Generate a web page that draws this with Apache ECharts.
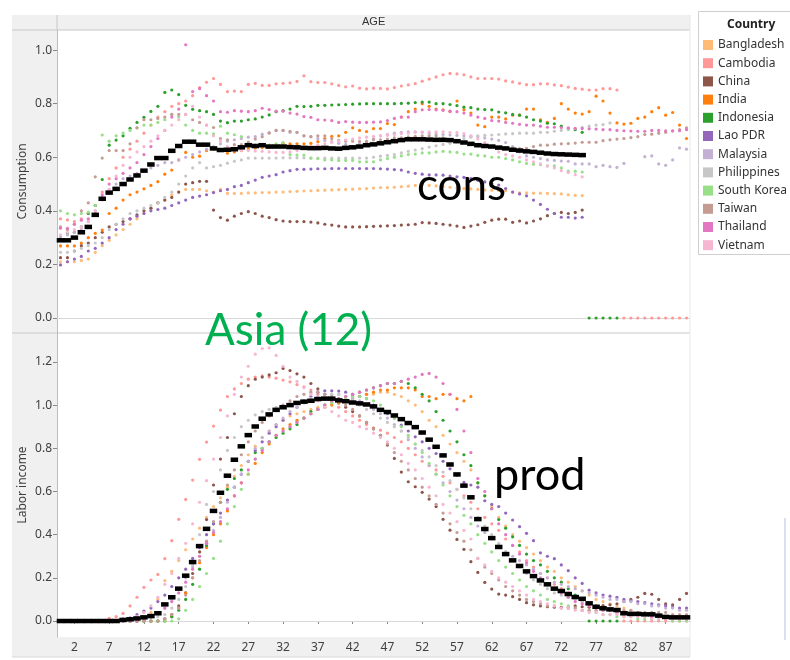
<!DOCTYPE html>
<html><head><meta charset="utf-8">
<script src="https://cdn.jsdelivr.net/npm/echarts@6/dist/echarts.min.js"></script>
<style>html,body{margin:0;padding:0;background:#fff}#c{width:790px;height:660px}</style>
</head><body><div id="c"></div>
<script>
const ages = [0,1,2,3,4,5,6,7,8,9,10,11,12,13,14,15,16,17,18,19,20,21,22,23,24,25,26,27,28,29,30,31,32,33,34,35,36,37,38,39,40,41,42,43,44,45,46,47,48,49,50,51,52,53,54,55,56,57,58,59,60,61,62,63,64,65,66,67,68,69,70,71,72,73,74,75,76,77,78,79,80,81,82,83,84,85,86,87,88,89,90];
const xTickLabels = ['2','7','12','17','22','27','32','37','42','47','52','57','62','67','72','77','82','87'];
const consTicks = [0,0.2,0.4,0.6,0.8,1.0];
const prodTicks = [0,0.2,0.4,0.6,0.8,1.0,1.2];
const countries = ['Bangladesh','Cambodia','China','India','Indonesia','Lao PDR','Malaysia','Philippines','South Korea','Taiwan','Thailand','Vietnam'];
const colors = ['#ffbb78','#ff9896','#8c564b','#ff7f0e','#2ca02c','#9467bd','#c5b0d5','#c7c7c7','#98df8a','#c49c94','#e377c2','#f7b6d2'];
const N = null;

const consBangladesh = [0.21,0.21,0.21,0.215,0.22,0.245,0.27,0.29,0.31,0.33,
0.35,0.37,0.39,0.41,0.43,0.44,0.46,0.47,0.48,0.48,
0.48,0.475,0.47,0.48,0.465,0.465,0.465,0.467,0.467,0.468,
0.468,0.47,0.47,0.472,0.473,0.474,0.475,0.476,0.477,0.478,
0.479,0.48,0.481,0.482,0.483,0.485,0.487,0.487,0.488,0.49,
0.492,0.495,0.497,0.495,0.493,0.49,0.488,0.486,0.483,0.482,
0.48,0.478,0.477,0.476,0.475,0.47,0.467,0.467,0.466,0.466,
0.465,0.464,0.463,0.46,0.458,0.457,N,N,N,N,
N,N,N,N,N,N,N,N,N,N,N];
const consCambodia = [0.37,0.366,0.36,0.37,0.39,0.42,0.47,0.52,0.56,0.6,
0.63,0.66,0.69,0.72,0.75,0.77,0.79,0.8,0.81,0.83,
0.86,0.88,0.894,0.872,0.845,0.847,0.845,0.872,0.876,0.868,
0.868,0.874,0.876,0.878,0.883,0.904,0.882,0.879,0.879,0.874,
0.868,0.863,0.866,0.858,0.855,0.858,0.857,0.855,0.86,0.866,
0.87,0.875,0.884,0.892,0.9,0.908,0.913,0.911,0.908,0.9,
0.894,0.894,0.894,0.892,0.885,0.881,0.876,0.871,0.871,0.874,
0.874,0.87,0.867,0.862,0.857,0.854,0.851,0.851,0.856,0.856,
0.851,0,0,0,0,0,0,0,0,0,0];
const consChina = [0.225,0.225,0.25,0.27,0.28,0.3,0.32,0.34,0.35,0.36,
0.37,0.385,0.4,0.41,0.43,0.44,0.45,0.47,0.5,0.505,
0.51,0.51,0.403,0.375,0.365,0.38,0.39,0.397,0.39,0.38,
0.375,0.367,0.362,0.36,0.36,0.36,0.358,0.355,0.35,0.347,
0.343,0.34,0.34,0.34,0.341,0.342,0.343,0.344,0.345,0.347,
0.348,0.35,0.356,0.355,0.353,0.35,0.347,0.343,0.338,0.343,
0.348,0.357,0.365,0.369,0.369,0.357,0.362,0.355,0.362,0.37,
0.382,0.39,0.394,0.39,0.394,0.403,N,N,N,N,
N,N,N,N,N,N,N,N,N,N,N];
const consIndia = [0.269,0.269,0.269,0.28,0.3,0.316,0.328,0.39,0.41,0.44,
0.46,0.47,0.482,0.495,0.509,0.537,0.552,0.59,0.618,0.6,
0.604,0.625,0.63,0.625,0.615,0.62,0.625,0.632,0.635,0.636,
0.637,0.645,0.652,0.65,0.65,0.65,0.652,0.658,0.67,0.678,
0.68,0.693,0.71,0.7,0.696,0.707,0.707,0.726,0.722,0.75,
0.77,0.78,0.8,0.79,0.78,0.777,0.771,0.81,0.777,0.765,
0.72,0.714,0.75,0.75,0.743,0.757,0.757,0.78,0.78,0.74,
0.73,0.745,0.8,0.78,0.765,0.761,0.77,0.828,0.81,0.765,
0.728,0.724,0.727,0.745,0.75,0.77,0.785,0.757,0.767,0.72,0.67];
const consIndonesia = [0.3,0.317,0.32,0.34,0.39,0.42,0.517,0.645,0.664,0.68,
0.708,0.73,0.749,0.771,0.79,0.842,0.851,0.834,0.794,0.779,
0.774,0.77,0.76,0.735,0.729,0.735,0.735,0.74,0.743,0.75,
0.758,0.77,0.774,0.78,0.79,0.789,0.79,0.794,0.794,0.795,
0.796,0.797,0.798,0.799,0.8,0.8,0.8,0.8,0.8,0.801,
0.802,0.804,0.806,0.806,0.8,0.8,0.797,0.793,0.787,0.785,
0.78,0.778,0.777,0.769,0.766,0.76,0.757,0.75,0.74,0.735,
0.727,0.725,0.716,0.705,0.703,0.693,0,0,0,0,
0,N,N,N,N,N,N,N,N,N,N];
const consLao = [0.198,0.21,0.22,0.23,0.25,0.26,0.28,0.3,0.33,0.35,
0.37,0.38,0.39,0.4,0.405,0.41,0.42,0.43,0.44,0.45,
0.455,0.46,0.468,0.475,0.48,0.49,0.495,0.505,0.515,0.525,
0.53,0.535,0.545,0.55,0.555,0.555,0.556,0.557,0.557,0.558,
0.558,0.558,0.558,0.558,0.558,0.558,0.557,0.556,0.554,0.552,
0.545,0.54,0.537,0.534,0.534,0.533,0.53,0.527,0.525,0.52,
0.514,0.508,0.502,0.496,0.483,0.47,0.463,0.456,0.44,0.424,
0.406,0.39,0.376,0.376,0.373,0.376,N,N,N,N,
N,N,N,N,N,N,N,N,N,N,N];
const consMalaysia = [0.3,0.31,0.32,0.33,0.36,0.4,0.45,0.48,0.5,0.52,
0.53,0.54,0.55,0.56,0.57,0.58,0.58,0.59,0.6,0.61,
0.62,0.63,0.64,0.65,0.66,0.665,0.67,0.675,0.677,0.686,
0.692,0.7,0.7,0.693,0.692,0.68,0.677,0.67,0.663,0.658,
0.652,0.648,0.64,0.65,0.66,0.67,0.68,0.685,0.69,0.693,
0.695,0.695,0.693,0.69,0.688,0.685,0.683,0.682,0.68,0.678,
0.677,0.672,0.668,0.663,0.655,0.64,0.62,0.605,0.6,0.595,
0.59,0.588,0.586,0.585,0.575,0.575,0.575,0.565,0.57,0.565,
0.562,0.577,N,N,0.602,0.605,0.575,0.57,0.59,0.635,0.63];
const consPhilippines = [0.245,0.245,0.25,0.26,0.27,0.28,0.3,0.33,0.35,0.37,
0.39,0.4,0.41,0.42,0.43,0.45,0.47,0.5,0.53,0.56,
0.58,0.56,0.565,0.57,0.578,0.585,0.59,0.597,0.597,0.597,
0.597,0.597,0.598,0.598,0.598,0.598,0.597,0.597,0.597,0.597,
0.597,0.597,0.597,0.597,0.597,0.6,0.604,0.607,0.61,0.616,
0.622,0.627,0.632,0.638,0.643,0.648,0.652,0.66,0.67,0.675,
0.68,0.682,0.683,0.685,0.687,0.688,0.69,0.69,0.69,0.693,
0.693,0.697,0.7,0.705,0.707,0.712,0.716,0.72,0.722,0.728,
N,N,N,N,N,N,N,N,N,N,N];
const consKorea = [0.4,0.39,0.385,0.39,0.395,0.42,0.683,0.66,0.68,0.69,
0.7,0.71,0.72,0.72,0.73,0.74,0.76,0.75,0.72,0.7,
0.69,0.69,0.687,0.716,0.69,0.684,0.677,0.65,0.645,0.642,
0.645,0.65,0.655,0.61,0.608,0.608,0.597,0.595,0.59,0.59,
0.588,0.588,0.588,0.583,0.583,0.583,0.59,0.595,0.6,0.605,
0.61,0.612,0.616,0.616,0.62,0.622,0.62,0.618,0.612,0.612,
0.607,0.605,0.6,0.6,0.595,0.59,0.583,0.577,0.574,0.572,
0.568,0.568,0.56,0.548,0.548,0.545,N,N,N,N,
N,N,N,N,N,N,N,N,N,N,N];
const consTaiwan = [0.34,0.33,0.35,0.4,0.43,0.527,0.597,0.625,0.625,0.625,
0.65,0.71,0.74,0.74,0.745,0.75,0.76,0.76,0.76,0.74,
0.73,0.72,0.711,0.67,0.665,0.647,0.647,0.657,0.668,0.677,
0.69,0.7,0.7,0.697,0.693,0.68,0.677,0.68,0.68,0.67,
0.663,0.66,0.66,0.659,0.658,0.665,0.665,0.668,0.672,0.672,
0.676,0.678,0.68,0.68,0.68,0.672,0.665,0.658,0.655,0.65,
0.642,0.64,0.64,0.637,0.635,0.633,0.632,0.633,0.64,0.645,
0.645,0.649,0.65,0.651,0.653,0.656,0.656,0.656,0.662,0.665,
0.668,0.67,0.673,0.677,0.685,0.686,0.69,0.693,0.698,0.703,0.71];
const consThailand = [0.335,0.335,0.35,0.365,0.37,0.39,0.46,0.5,0.52,0.54,
0.56,0.58,0.61,0.64,0.67,0.7,0.75,0.78,1.02,0.845,
0.856,0.83,0.81,0.77,0.768,0.774,0.772,0.77,0.774,0.783,
0.778,0.772,0.772,0.765,0.761,0.752,0.749,0.74,0.739,0.737,
0.73,0.733,0.731,0.73,0.73,0.731,0.732,0.737,0.745,0.75,
0.75,0.77,0.777,0.778,0.777,0.775,0.772,0.77,0.765,0.757,
0.75,0.745,0.737,0.735,0.73,0.727,0.723,0.72,0.72,0.716,
0.712,0.712,0.711,0.71,0.708,0.707,0.706,0.705,0.703,0.703,
0.7,0.699,0.698,0.697,0.697,0.7,0.7,0.699,0.699,0.699,0.703];
const consVietnam = [0.31,0.32,0.33,0.34,0.36,0.4,0.44,0.48,0.53,0.57,
0.6,0.62,0.64,0.66,0.68,0.7,0.72,0.74,0.76,0.79,
0.75,0.72,0.68,0.66,0.64,0.63,0.625,0.625,0.623,0.622,
0.62,0.618,0.618,0.62,0.625,0.635,0.64,0.645,0.65,0.655,
0.66,0.665,0.668,0.672,0.675,0.678,0.68,0.682,0.685,0.688,
0.69,0.693,0.695,0.695,0.695,0.695,0.692,0.692,0.688,0.68,
0.668,0.655,0.64,0.62,0.61,0.605,0.6,0.59,0.583,0.575,
0.567,0.56,0.55,0.543,0.535,0.527,N,N,N,N,
N,N,N,N,N,N,N,N,N,N,N];
const consMean = [0.29,0.29,0.3,0.32,0.34,0.385,0.445,0.468,0.482,0.5,
0.517,0.532,0.55,0.573,0.597,0.597,0.624,0.642,0.658,0.658,
0.647,0.647,0.633,0.627,0.628,0.63,0.637,0.645,0.642,0.645,
0.64,0.64,0.64,0.638,0.637,0.635,0.634,0.634,0.635,0.633,
0.632,0.635,0.637,0.64,0.645,0.648,0.652,0.656,0.66,0.664,
0.667,0.667,0.667,0.666,0.665,0.665,0.664,0.66,0.655,0.65,
0.645,0.642,0.64,0.636,0.633,0.628,0.625,0.622,0.62,0.617,
0.614,0.612,0.611,0.61,0.609,0.608,N,N,N,N,
N,N,N,N,N,N,N,N,N,N,N];

const prodBangladesh = [0,0,0,0,0,0,0,0,0,0,
0.005,0.01,0.02,0.04,0.1,0.187,0.23,0.28,0.33,0.38,
0.43,0.48,0.53,0.57,0.62,0.67,0.72,0.77,0.81,0.85,
0.88,0.91,0.93,0.95,0.96,0.97,0.98,0.99,1.0,1.01,
1.02,1.03,1.04,1.04,1.05,1.05,1.06,1.06,1.05,1.04,
1.02,1.0,0.97,0.93,0.9,0.86,0.82,0.78,0.74,0.7,
0.64,0.58,0.53,0.48,0.44,0.4,0.37,0.34,0.31,0.28,
0.25,0.23,0.2,0.18,0.16,0.14,0.12,0.1,0.09,0.08,
0.07,0.06,0.05,0.04,0.03,0.02,0.02,0.01,0.01,0.01,0.01];
const prodCambodia = [0,0,0,0,0,0,0,0.012,0.02,0.035,
0.07,0.11,0.156,0.19,0.216,0.289,0.372,0.471,0.563,0.653,
0.749,0.829,0.903,0.977,1.04,1.075,1.1,1.12,1.13,1.135,
1.13,1.125,1.116,1.108,1.095,1.085,1.07,1.05,1.03,1.01,
0.99,0.97,0.95,0.93,0.91,0.895,0.884,0.87,0.85,0.83,
0.8,0.77,0.74,0.72,0.7,0.67,0.64,0.61,0.58,0.55,
0.52,0.48,0.45,0.42,0.38,0.35,0.32,0.28,0.25,0.22,
0.2,0.17,0.15,0.13,0.11,0.09,0.08,0.07,0.06,0.05,
0.04,0,0,0,0,0,0,0,0,0,0];
const prodChina = [0,0,0,0,0,0,0,0,0,0,
0,0,0,0,0,0.01,0.03,0.07,0.13,0.22,
0.32,0.47,0.63,0.75,0.85,0.96,1.04,1.09,1.12,1.13,
1.14,1.15,1.17,1.16,1.145,1.13,1.1,1.075,1.05,1.03,
1.01,0.99,0.97,0.95,0.92,0.89,0.86,0.815,0.753,0.69,
0.645,0.622,0.596,0.565,0.53,0.471,0.421,0.378,0.332,0.275,
0.225,0.179,0.148,0.125,0.12,0.113,0.1,0.085,0.075,0.07,
0.066,0.064,0.063,0.062,0.07,0.066,0.064,0.07,0.072,0.075,
0.08,0.09,0.1,0.11,0.128,0.124,0.1,0.079,0.075,0.1,0.128];
const prodIndia = [0,0,0,0,0,0,0,0,0,0,
0,0,0,0,0,0,0.02,0.06,0.13,0.2,
0.27,0.34,0.4,0.45,0.51,0.58,0.64,0.68,0.73,0.78,
0.82,0.86,0.89,0.91,0.93,0.94,0.96,0.98,0.99,1.0,
1.01,1.02,1.03,1.04,1.05,1.06,1.07,1.07,1.08,1.08,
1.08,1.07,1.04,1.04,1.03,1.05,1.05,1.03,1.02,1.04,
N,N,N,N,N,N,N,N,N,N,
N,N,N,N,N,N,N,N,N,N,
N,N,N,N,N,N,N,N,N,N,N];
const prodIndonesia = [0,0,0,0,0,0,0,0,0,0,
0,0,0,0,0,0,0.02,0.05,0.1,0.17,
0.24,0.35,0.45,0.55,0.61,0.66,0.7,0.74,0.78,0.8,
0.83,0.85,0.87,0.89,0.91,0.94,0.97,0.98,1.0,1.02,
1.03,1.04,1.05,1.06,1.07,1.08,1.09,1.1,1.1,1.11,
1.1,1.08,1.05,1.02,0.97,0.93,0.88,0.83,0.77,0.72,
0.64,0.58,0.52,0.47,0.43,0.39,0.35,0.31,0.28,0.26,
0.23,0.2,0.18,0.15,0.12,0.1,0,0,0,0,
0,N,N,N,N,N,N,N,N,N,N];
const prodLao = [0,0,0,0,0,0,0,0,0,0.01,
0.015,0.03,0.046,0.06,0.09,0.12,0.16,0.2,0.24,0.29,
0.34,0.4,0.45,0.5,0.56,0.62,0.68,0.74,0.79,0.83,
0.87,0.9,0.93,0.96,0.99,1.02,1.04,1.06,1.066,1.066,
1.065,1.06,1.05,1.04,1.03,1.0,0.98,0.96,0.94,0.907,
0.88,0.853,0.83,0.8,0.776,0.74,0.705,0.675,0.642,0.63,
0.62,0.557,0.54,0.53,0.5,0.468,0.437,0.406,0.372,0.316,
0.3,0.289,0.26,0.233,0.2,0.174,0.143,0.13,0.12,0.115,
0.11,0.1,0.095,0.09,0.085,0.08,0.075,0.07,0.065,0.06,0.06];
const prodMalaysia = [0,0,0,0,0,0,0,0,0,0,
0.005,0.01,0.015,0.02,0.03,0.06,0.1,0.15,0.2,0.25,
0.3,0.36,0.42,0.48,0.55,0.62,0.68,0.74,0.8,0.85,
0.88,0.91,0.94,0.97,0.99,1.01,1.03,1.04,1.05,1.05,
1.05,1.04,1.03,1.02,1.0,0.98,0.96,0.94,0.91,0.88,
0.84,0.8,0.76,0.72,0.68,0.64,0.6,0.56,0.52,0.48,
0.44,0.41,0.38,0.35,0.32,0.3,0.28,0.26,0.24,0.22,
0.2,0.18,0.17,0.16,0.15,0.14,0.13,0.12,0.11,0.1,
0.1,0.09,0.09,0.08,0.08,0.07,0.07,0.06,0.06,0.05,0.05];
const prodPhilippines = [0,0,0,0,0,0,0,0,0,0,
0,0.005,0.01,0.015,0.02,0.03,0.06,0.1,0.16,0.26,
0.4,0.54,0.6,0.7,0.79,0.85,0.9,0.93,0.955,0.97,
0.98,0.99,1.0,1.01,1.01,1.02,1.03,1.03,1.04,1.05,
1.05,1.04,1.02,1.0,0.98,0.96,0.94,0.92,0.9,0.88,
0.85,0.82,0.79,0.76,0.72,0.69,0.65,0.61,0.57,0.52,
0.48,0.44,0.4,0.36,0.32,0.28,0.25,0.22,0.19,0.17,
0.15,0.13,0.12,0.11,0.1,0.09,0.08,0.07,0.06,0.05,
0.05,0.04,0.04,0.03,0.03,0.03,0.02,0.02,0.02,0.02,0.02];
const prodKorea = [0,0,0,0,0,0,0,0,0,0,
0,0,0,0,0,0,0,0.01,0.05,0.1,
0.16,0.22,0.29,0.37,0.45,0.53,0.61,0.68,0.75,0.8,
0.83,0.86,0.88,0.9,0.92,0.94,0.96,0.98,1.0,1.01,
1.02,1.03,1.04,1.04,1.03,1.02,1.0,0.97,0.94,0.9,
0.86,0.82,0.78,0.73,0.68,0.63,0.58,0.53,0.49,0.45,
0.4,0.36,0.32,0.28,0.25,0.22,0.19,0.16,0.14,0.12,
0.1,0.09,0.08,0.07,0.06,0.05,0.05,0.04,0.03,0.03,
0.02,0.02,0.02,0.01,0.01,0.01,0.01,0.01,0,0,0];
const prodTaiwan = [0,0,0,0,0,0,0,0,0,0,
0,0,0,0,0,0.01,0.03,0.06,0.12,0.2,
0.28,0.37,0.46,0.55,0.63,0.7,0.77,0.83,0.88,0.92,
0.95,0.98,1.0,1.02,1.04,1.05,1.06,1.06,1.05,1.04,
1.02,1.0,0.98,0.95,0.92,0.89,0.86,0.82,0.78,0.74,
0.7,0.66,0.62,0.58,0.54,0.5,0.45,0.41,0.37,0.33,
0.29,0.25,0.22,0.19,0.16,0.14,0.12,0.1,0.09,0.08,
0.07,0.07,0.06,0.06,0.06,0.05,0.05,0.05,0.05,0.05,
0.05,0.05,0.05,0.04,0.04,0.04,0.04,0.04,0.03,0.03,0.03];
const prodThailand = [0,0,0,0,0,0,0,0,0,0,
0,0,0.01,0.02,0.04,0.06,0.09,0.13,0.18,0.24,
0.3,0.36,0.41,0.46,0.52,0.58,0.64,0.7,0.75,0.79,
0.83,0.86,0.88,0.9,0.92,0.94,0.96,0.98,1.0,1.02,
1.03,1.04,1.05,1.06,1.07,1.08,1.09,1.1,1.1,1.11,
1.12,1.13,1.142,1.147,1.13,1.1,1.05,0.98,0.88,0.78,
0.66,0.6,0.52,0.45,0.4,0.35,0.31,0.27,0.23,0.2,
0.17,0.15,0.13,0.11,0.09,0.08,0.07,0.06,0.05,0.05,
0.04,0.04,0.03,0.03,0.03,0.02,0.02,0.02,0.02,0.01,0.01];
const prodVietnam = [0,0,0,0,0,0,0,0,0,0,
0.01,0.02,0.04,0.07,0.11,0.17,0.22,0.29,0.36,0.45,
0.55,0.65,0.75,0.85,0.95,1.05,1.13,1.18,1.236,1.262,
1.265,1.23,1.18,1.13,1.11,1.08,1.05,1.02,0.99,0.97,
0.95,0.93,0.92,0.9,0.89,0.87,0.85,0.83,0.8,0.77,
0.73,0.7,0.66,0.62,0.58,0.54,0.5,0.46,0.42,0.38,
0.29,0.26,0.23,0.2,0.18,0.16,0.14,0.12,0.1,0.09,
0.08,0.07,0.06,0.06,0.05,0.05,0.04,0.04,0.03,0.03,
0.03,0.02,0.02,0.02,0.02,0.01,0.01,0.01,0.01,0.01,0.01];
const prodMean = [0,0,0,0,0,0,0,0,0,0.005,
0.008,0.012,0.017,0.023,0.036,0.077,0.11,0.15,0.21,0.273,
0.347,0.427,0.51,0.594,0.673,0.747,0.809,0.861,0.901,0.937,
0.957,0.978,0.99,1.0,1.01,1.016,1.02,1.028,1.03,1.03,
1.022,1.018,1.012,1.008,1.003,0.994,0.978,0.968,0.952,0.935,
0.917,0.898,0.873,0.84,0.807,0.767,0.725,0.679,0.627,0.573,
0.472,0.426,0.384,0.343,0.31,0.281,0.255,0.23,0.208,0.188,
0.17,0.15,0.139,0.125,0.111,0.103,0.082,0.066,0.059,0.054,
0.051,0.036,0.033,0.033,0.031,0.031,0.025,0.019,0.017,0.017,0.017];

const consData = [consBangladesh,consCambodia,consChina,consIndia,consIndonesia,consLao,consMalaysia,consPhilippines,consKorea,consTaiwan,consThailand,consVietnam];
const prodData = [prodBangladesh,prodCambodia,prodChina,prodIndia,prodIndonesia,prodLao,prodMalaysia,prodPhilippines,prodKorea,prodTaiwan,prodThailand,prodVietnam];

const FONT = '"Noto Sans", "Open Sans", sans-serif';
const BIG = 'Lato, "Open Sans", sans-serif';
const clean = arr => arr.map(v => v === null ? '-' : v);
const showTick = (i) => xTickLabels.indexOf(String(ages[i])) >= 0;
const zeroLine = {silent:true, symbol:'none', label:{show:false}, lineStyle:{color:'#d9d9d9', type:'solid', width:1}, data:[{yAxis:0}], z:1};

const series = [];
countries.forEach((c, k) => {
  series.push({name:c, type:'scatter', xAxisIndex:0, yAxisIndex:0, data:clean(consData[k]),
    symbol:'circle', symbolSize:3.2, itemStyle:{color:colors[k], opacity:1}, z:2, silent:true,
    markLine: k===0 ? zeroLine : undefined});
  series.push({name:c, type:'scatter', xAxisIndex:1, yAxisIndex:1, data:clean(prodData[k]),
    symbol:'circle', symbolSize:3.2, itemStyle:{color:colors[k], opacity:1}, z:2, silent:true,
    markLine: k===0 ? zeroLine : undefined});
});
series.push({name:'Mean cons', type:'scatter', xAxisIndex:0, yAxisIndex:0, data:clean(consMean), symbol:'rect', symbolSize:[7.5,4.5], itemStyle:{color:'#000', opacity:1}, z:5, silent:true});
series.push({name:'Mean prod', type:'scatter', xAxisIndex:1, yAxisIndex:1, data:clean(prodMean), symbol:'rect', symbolSize:[7.5,4.5], itemStyle:{color:'#000', opacity:1}, z:5, silent:true});

const yAxisCommon = (ticks, min, max, name) => ({
  type:'value', min:min, max:max,
  axisLine:{show:true, lineStyle:{color:'#bdbdbd'}},
  axisTick:{show:true, customValues:ticks, length:4, lineStyle:{color:'#888'}},
  axisLabel:{customValues:ticks, formatter:v => Number(v).toFixed(1), color:'#404040', fontSize:12, fontFamily:FONT, margin:5},
  splitLine:{show:false},
  name:name, nameLocation:'middle', nameGap:28, nameRotate:90, nameMoveOverlap:false,
  nameTextStyle:{fontSize:12, color:'#404040', fontFamily:FONT}
});

const option = {
  animation:false,
  backgroundColor:'#ffffff',
  textStyle:{fontFamily:FONT},
  grid:[
    {left:57, top:30, width:633, height:303},
    {left:57, top:333, width:633, height:304}
  ],
  xAxis:[
    {gridIndex:0, type:'category', data:ages, boundaryGap:true, axisLine:{show:false}, axisTick:{show:false}, axisLabel:{show:false}, splitLine:{show:false}},
    {gridIndex:1, type:'category', data:ages, boundaryGap:true,
      axisLine:{show:true, lineStyle:{color:'#bdbdbd'}},
      axisTick:{show:true, interval:showTick, alignWithLabel:true, length:3, lineStyle:{color:'#888'}},
      axisLabel:{interval:showTick, color:'#404040', fontSize:12, fontFamily:FONT, margin:5},
      splitLine:{show:false}}
  ],
  yAxis:[
    Object.assign({gridIndex:0}, yAxisCommon(consTicks, -0.056, 1.075, 'Consumption')),
    Object.assign({gridIndex:1}, yAxisCommon(prodTicks, -0.074, 1.334, 'Labor income'))
  ],
  legend:{
    data:countries, orient:'vertical', left:703, top:39, itemWidth:10, itemHeight:10, itemGap:6.2,
    icon:'rect', selectedMode:false, textStyle:{fontSize:12, color:'#333', fontFamily:FONT}, padding:0
  },
  graphic:[
    {type:'rect', z:-10, shape:{x:12, y:15, width:678, height:15}, style:{fill:'#f0f0f0'}},
    {type:'rect', z:-10, shape:{x:12, y:15, width:45, height:642}, style:{fill:'#f0f0f0'}},
    {type:'rect', z:-10, shape:{x:12, y:637, width:678, height:20}, style:{fill:'#f0f0f0'}},
    {type:'line', z:-5, shape:{x1:12, y1:30, x2:690, y2:30}, style:{stroke:'#c8c8c8', lineWidth:1}},
    {type:'line', z:-5, shape:{x1:12, y1:333, x2:690, y2:333}, style:{stroke:'#c8c8c8', lineWidth:1}},
    {type:'line', z:-5, shape:{x1:57, y1:15, x2:57, y2:30}, style:{stroke:'#c8c8c8', lineWidth:1}},
    {type:'line', z:-5, shape:{x1:12, y1:657, x2:690, y2:657}, style:{stroke:'#d8d8d8', lineWidth:1}},
    {type:'line', z:-5, shape:{x1:690, y1:15, x2:690, y2:657}, style:{stroke:'#e8e8e8', lineWidth:1}},
    {type:'text', z:10, left:362, top:16, style:{text:'AGE', fontSize:11, fill:'#333', font:'11px ' + FONT}},
    {type:'rect', z:-10, shape:{x:698.5, y:11.5, width:100, height:243}, style:{fill:'#fff', stroke:'#cfcfcf', lineWidth:1}},
    {type:'text', z:10, left:727, top:19, style:{text:'Country', font:'bold 12px ' + FONT, fill:'#222'}},
    {type:'line', z:-5, shape:{x1:785, y1:518, x2:785, y2:640}, style:{stroke:'#d6e2f0', lineWidth:2}},
    {type:'text', z:20, left:417, top:164, style:{text:'cons', font:'44px ' + BIG, fill:'#000'}},
    {type:'text', z:20, left:205, top:309, style:{text:'Asia (12)', font:'44px ' + BIG, fill:'#00b050'}},
    {type:'text', z:20, left:494, top:453, style:{text:'prod', font:'45px ' + BIG, fill:'#000'}}
  ],
  series:series
};
const chart = echarts.init(document.getElementById('c'), null, {renderer:'canvas'});
chart.setOption(option);
</script>
</body></html>
